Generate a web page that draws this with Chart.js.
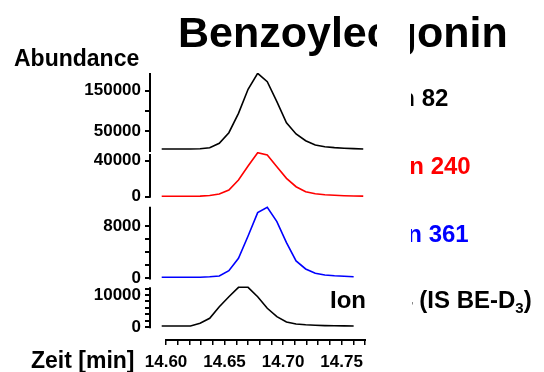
<!DOCTYPE html>
<html><head><meta charset="utf-8">
<script src="https://cdn.jsdelivr.net/npm/chart.js@4.4.1/dist/chart.umd.min.js"></script>
<style>html,body{margin:0;padding:0;background:#fff;overflow:hidden}canvas{display:block}</style>
</head><body>
<canvas id="c" width="544" height="372"></canvas>
<script>
// ---- data ----
const scanTimes = [14.5963, 14.6045, 14.6127, 14.6209, 14.6291, 14.6373, 14.6455, 14.6537, 14.6619, 14.6701, 14.6783,
                   14.6865, 14.6947, 14.7029, 14.7111, 14.7193, 14.7275, 14.7357, 14.7439, 14.7521, 14.7603, 14.7685];
const ion82  = [5000, 5000, 5000, 5000, 5700, 8200, 19100, 45400, 93500, 153100, 192800,
                172000, 122300, 70200, 42200, 25600, 14900, 10700, 8400, 6900, 5900, 5000];
const ion240 = [500, 500, 500, 500, 600, 1300, 3000, 7400, 18600, 34100, 48900,
                46300, 33300, 20400, 11100, 5600, 3300, 2200, 1600, 1100, 800, 600];
const ion361 = [180, 180, 180, 180, 200, 270, 380, 1190, 3080, 6480, 10030,
                10850, 8660, 5460, 2670, 1450, 790, 530, 410, 340, 270];
const ion364 = [400, 400, 400, 400, 1240, 2790, 6380, 9470, 12380, 12380, 9470,
                5880, 3280, 1640, 1020, 770, 620, 530, 460, 430, 400];

const seriesNames = ['Ion 82', 'Ion 240', 'Ion 361', 'Ion 364'];
const seriesColors = ['#000000', '#ff0000', '#0000ff', '#000000'];
const chartTitle = 'Benzoylecgonin';
const yTitle = 'Abundance';
const xTitle = 'Zeit [min]';
const isNote = '(IS BE-D';
const isNoteSub = '3';

// tick values and labels
const xTickValues = [14.60, 14.61, 14.62, 14.63, 14.64, 14.65, 14.66, 14.67, 14.68, 14.69, 14.70, 14.71, 14.72, 14.73, 14.74, 14.75, 14.76, 14.77];
const xTickLabels = ['14.60', '', '', '', '', '14.65', '', '', '', '', '14.70', '', '', '', '', '14.75', '', ''];
const y82Ticks  = [50000, 100000, 150000];   const y82Labels  = ['50000', '', '150000'];
const y240Ticks = [0, 40000];                const y240Labels = ['0', '40000'];
const y361Ticks = [0, 2000, 4000, 6000, 8000]; const y361Labels = ['0', '', '', '', '8000'];
const y364Ticks = [0, 2000, 4000, 6000, 8000, 10000, 12000]; const y364Labels = ['0', '', '', '', '', '10000', ''];

// scale ranges (panel extents incl. gaps) and drawn axis-line ranges
const y82Range = [-2480, 193550],  y82Line = [0, 193550];
const y240Range = [-5890, 49670],  y240Line = [0, 47500];
const y361Range = [-686, 11657],   y361Line = [0, 10940];
const y364Range = [-3932, 13715],  y364Line = [0, 12380];
const xRange = [14.5863, 14.77];

const FONT = '"Liberation Sans", Arial, Helvetica, sans-serif';

function pts(vals) { return vals.map((v, i) => ({x: scanTimes[i], y: v})); }

function yScale(range, weight, stackWeight, ticks, labels) {
  return {
    type: 'linear', position: 'left', stack: 'panels', stackWeight: stackWeight, weight: weight,
    min: range[0], max: range[1],
    border: {display: false},
    grid: {display: true, drawOnChartArea: false, drawTicks: true, tickLength: 5, color: '#000', lineWidth: 2},
    afterBuildTicks: s => { s.ticks = ticks.map(v => ({value: v})); },
    afterFit: s => { s.width = 90; },
    ticks: {autoSkip: false, padding: 4, color: '#000',
      font: {family: FONT, size: 17, weight: 'bold'},
      callback: (v, i) => labels[i]}
  };
}

const deco = {
  id: 'deco',
  afterDraw(chart) {
    const ctx = chart.ctx;
    const s = chart.scales;
    ctx.save();
    ctx.strokeStyle = '#000';
    ctx.lineWidth = 2;
    // y axis lines per panel
    [['y82', y82Line], ['y240', y240Line], ['y361', y361Line], ['y364', y364Line]].forEach(([id, r]) => {
      const sc = s[id];
      const x = sc.right;
      ctx.beginPath();
      ctx.moveTo(x, sc.getPixelForValue(r[0]) + 1);
      ctx.lineTo(x, sc.getPixelForValue(r[1]));
      ctx.stroke();
    });
    // x axis line
    const xs = s.x;
    ctx.beginPath();
    ctx.moveTo(xs.getPixelForValue(xTickValues[0]) - 1, xs.top);
    ctx.lineTo(xs.getPixelForValue(xTickValues[xTickValues.length - 1]) + 1, xs.top);
    ctx.stroke();

    // texts
    ctx.fillStyle = '#000';
    ctx.textBaseline = 'alphabetic';
    ctx.textAlign = 'left';
    ctx.font = 'bold 43px ' + FONT;
    ctx.fillText(chartTitle, 178, 47);
    ctx.font = 'bold 23px ' + FONT;
    ctx.fillText(yTitle, 14, 66);
    ctx.fillText(xTitle, 31, 368);

    ctx.font = 'bold 24px ' + FONT;
    ctx.fillStyle = seriesColors[0];
    ctx.fillText(seriesNames[0], 379, 106);
    ctx.fillStyle = seriesColors[1];
    ctx.fillText(seriesNames[1], 388, 174);
    ctx.fillStyle = seriesColors[2];
    ctx.fillText(seriesNames[2], 386, 242);
    ctx.fillStyle = seriesColors[3];
    const base = seriesNames[3] + ' ' + isNote;
    ctx.fillText(base, 330, 308);
    const w = ctx.measureText(base).width;
    ctx.font = 'bold 15px ' + FONT;
    ctx.fillText(isNoteSub, 330 + w, 313);
    const w2 = ctx.measureText(isNoteSub).width;
    ctx.font = 'bold 24px ' + FONT;
    ctx.fillText(')', 330 + w + w2, 308);

    // white patches covering parts of the texts (as in the reference)
    ctx.fillStyle = '#fff';
    ctx.fillRect(377, 0, 33, 62);
    ctx.fillRect(367, 62, 44, 214);
    ctx.fillRect(367, 276, 45, 52);
    ctx.restore();
  }
};

new Chart(document.getElementById('c'), {
  type: 'line',
  data: {
    datasets: [
      {label: seriesNames[0], data: pts(ion82), yAxisID: 'y82', borderColor: seriesColors[0]},
      {label: seriesNames[1], data: pts(ion240), yAxisID: 'y240', borderColor: seriesColors[1]},
      {label: seriesNames[2], data: pts(ion361), yAxisID: 'y361', borderColor: seriesColors[2]},
      {label: seriesNames[3], data: pts(ion364), yAxisID: 'y364', borderColor: seriesColors[3]}
    ]
  },
  options: {
    responsive: false, animation: false, devicePixelRatio: 1,
    layout: {padding: {left: 60, right: 179, top: 73, bottom: 0}},
    elements: {line: {borderWidth: 1.6, tension: 0, fill: false}, point: {radius: 0}},
    plugins: {legend: {display: false}, tooltip: {enabled: false}, title: {display: false}},
    scales: {
      x: {type: 'linear', position: 'bottom', min: xRange[0], max: xRange[1],
        border: {display: false},
        grid: {display: true, drawOnChartArea: false, drawTicks: true, tickLength: 5, color: '#000', lineWidth: 1.5},
        afterBuildTicks: s => { s.ticks = xTickValues.map(v => ({value: v})); },
        afterFit: s => { s.height = 32; },
        ticks: {autoSkip: false, maxRotation: 0, padding: 7, color: '#000',
          font: {family: FONT, size: 17, weight: 'bold'},
          callback: (v, i) => xTickLabels[i]}
      },
      y82: yScale(y82Range, 4, 79, y82Ticks, y82Labels),
      y240: yScale(y240Range, 3, 50, y240Ticks, y240Labels),
      y361: yScale(y361Range, 2, 81, y361Ticks, y361Labels),
      y364: yScale(y364Range, 1, 57, y364Ticks, y364Labels)
    }
  },
  plugins: [deco]
});
</script>
</body></html>
